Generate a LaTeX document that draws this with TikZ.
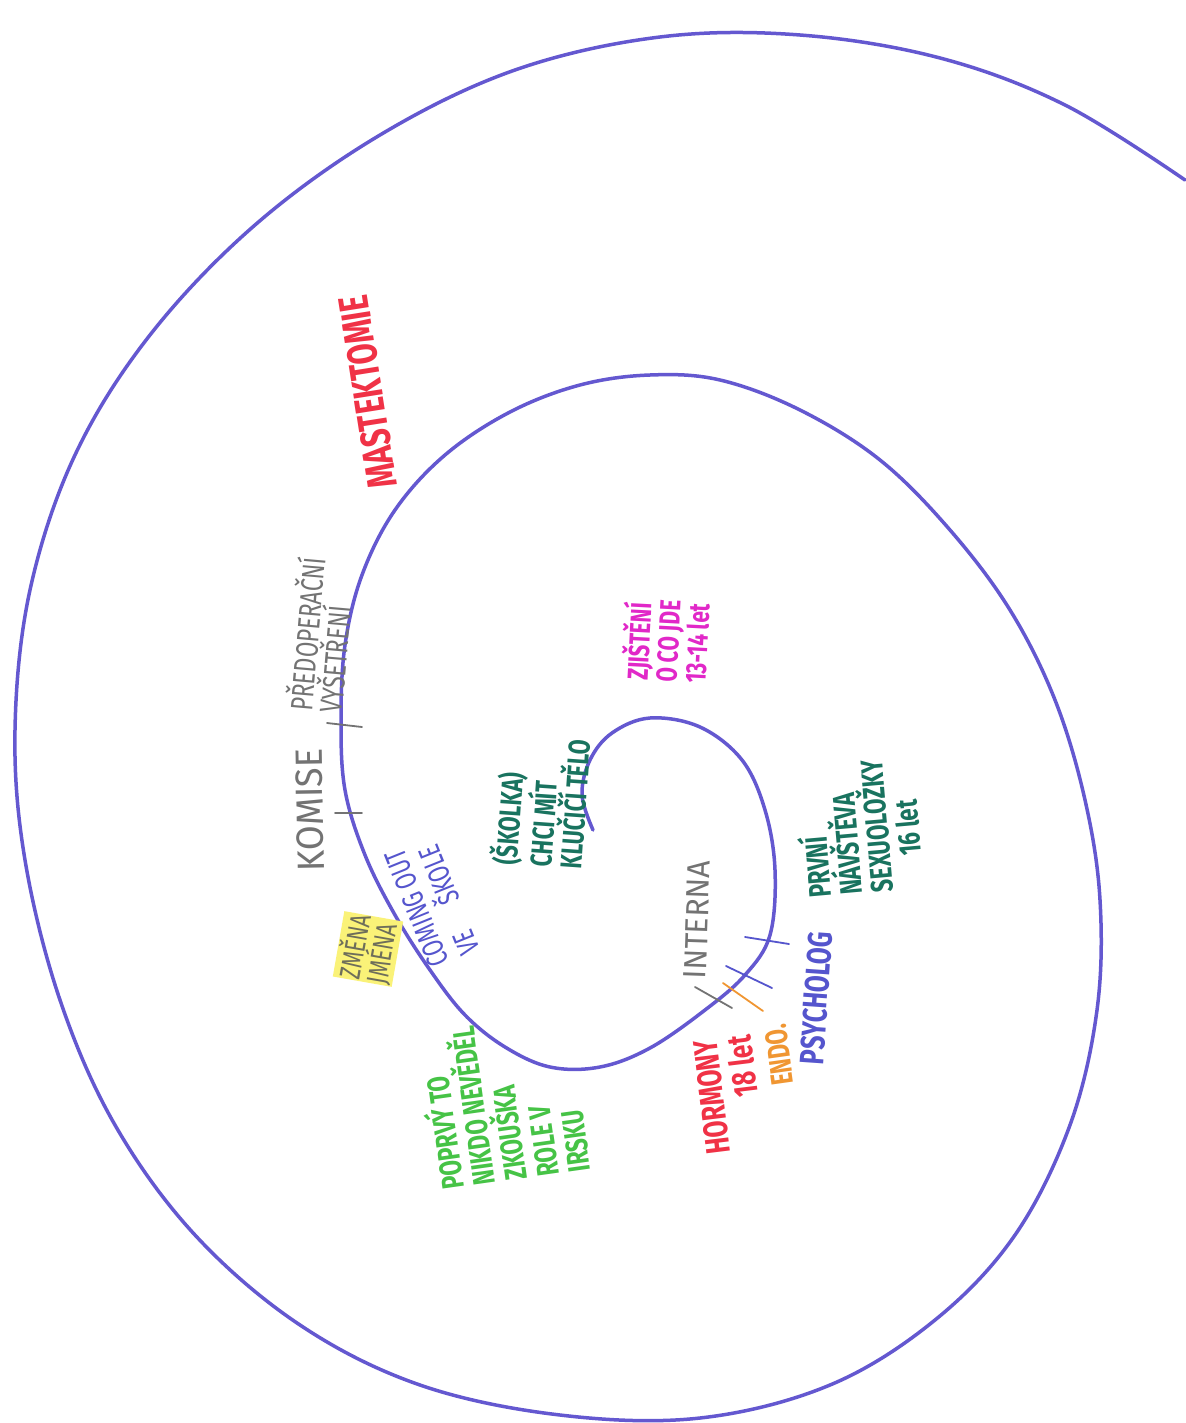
\documentclass[tikz,border=0pt]{standalone}
\usepackage{fontspec}
\newfontfamily\handfont[FakeStretch=0.72]{Fira Sans}
\newfontfamily\handwide[FakeStretch=0.95]{Fira Sans}
\definecolor{spiralblue}{RGB}{100,88,208}
\definecolor{markred}{RGB}{240,50,70}
\definecolor{markgray}{RGB}{115,115,115}
\definecolor{markblue}{RGB}{85,85,205}
\definecolor{markyellow}{RGB}{250,242,120}
\definecolor{markteal}{RGB}{25,115,95}
\definecolor{markmagenta}{RGB}{225,40,200}
\definecolor{markgreen}{RGB}{70,195,70}
\definecolor{markorange}{RGB}{240,150,50}
\definecolor{markolive}{RGB}{110,110,90}
\begin{document}
\begin{tikzpicture}[x=1pt,y=-1pt,
    note/.style={inner sep=1pt,align=left},
    spiral line/.style={draw=spiralblue,line width=3.5pt,line cap=round,line join=round},
    tick/.style={line width=1.8pt,line cap=round}]
    \useasboundingbox (0,0) rectangle (1185,1423);
    \fill[white] (0,0) rectangle (1185,1423);

    % the spiral, from the centre outwards
    \draw[spiral line] plot[smooth,tension=0.6] coordinates {
        (593,830) (582,795) (590,760) (612,733) (650,718) (700,727) (742,760)
        (765,810) (775,870) (770,935) (745,975) (705,1010) (650,1048) (600,1067)
        (550,1067) (505,1047) (465,1015) (430,970) (395,915) (365,855) (345,790)
        (341,720) (345,645) (362,575) (395,510) (445,455) (510,412) (580,385)
        (650,375) (720,380) (800,410) (880,460) (950,530) (1010,610) (1055,700)
        (1085,800) (1100,900) (1097,1010) (1070,1125) (1015,1235) (935,1320)
        (830,1385) (700,1418) (560,1415) (420,1385) (300,1325) (195,1235)
        (115,1125) (60,1000) (25,860) (15,730) (30,590) (75,455) (150,335)
        (255,225) (380,135) (515,70) (660,37) (800,35) (940,58) (1065,105)
        (1185,180)};

    % ticks on the spiral
    \draw[tick,markgray] (327,723) -- (362,727);
    \draw[tick,markgray] (335,813) -- (362,813);
    \draw[tick,markgray] (695,987) -- (732,1008);
    \draw[tick,markorange] (723,983) -- (763,1011);
    \draw[tick,markblue] (726,966) -- (772,988);
    \draw[tick,markblue] (745,937) -- (789,944);

    % labels
    \node[note,rotate=99,text=markred,font={\handfont\bfseries\fontsize{42}{44}\selectfont}] at (368,392) (mast) {MASTEKTOMIE};
    \node[note,rotate=91,text=markgray,font={\handwide\fontsize{38}{40}\selectfont}] at (310,810) (komise) {KOMISE};
    \node[note,rotate=85,text=markgray,font={\handfont\fontsize{31}{28}\selectfont}] at (320,635) (predop) {PŘEDOPERAČNÍ\\VYŠETŘENÍ};
    \node[note,rotate=112,text=markblue,font={\handfont\fontsize{30}{33}\selectfont}] at (432,902) (coming) {COMING OUT\\VE\quad ŠKOLE};
    \node[note,rotate=80,fill=markyellow,text=markolive,font={\handfont\fontsize{29}{22}\selectfont}] at (368,949) (jmeno) {ZMĚNA\\JMÉNA};
    \node[note,rotate=86,text=markteal,font={\handfont\bfseries\fontsize{30}{27}\selectfont}] at (540,802) (skolka) {(ŠKOLKA)\\CHCI MÍT\\KLUČIČÍ TĚLO};
    \node[note,rotate=87,text=markmagenta,font={\handfont\bfseries\fontsize{29}{29}\selectfont}] at (665,641) (zjisteni) {ZJIŠTĚNÍ\\O CO JDE\\13-14 let};
    \node[note,rotate=95,text=markteal,font={\handfont\bfseries\fontsize{31}{31}\selectfont}] at (858,828) (prvni) {PRVNÍ\\NÁVŠTĚVA\\SEXUOLOŽKY\\\hspace*{34pt}16 let};
    \node[note,rotate=88,text=markgray,font={\handwide\fontsize{32}{34}\selectfont}] at (697,920) (interna) {INTERNA};
    \node[note,rotate=86,text=markblue,font={\handfont\bfseries\fontsize{34}{36}\selectfont}] at (816,998) (psych) {PSYCHOLOG};
    \node[note,rotate=98,text=markorange,font={\handfont\bfseries\fontsize{31}{34}\selectfont}] at (779,1055) (endo) {ENDO.};
    \node[note,rotate=97,align=right,text=markred,font={\handfont\bfseries\fontsize{34}{34}\selectfont}] at (729,1095) (hormony) {HORMONY\\18 let};
    \node[note,rotate=98,text=markgreen,font={\handfont\bfseries\fontsize{31}{32}\selectfont}] at (502,1102) (poprve) {POPRVÝ TO\\NIKDO NEVĚDĚL\\ZKOUŠKA\\ROLE V\\IRSKU};

\end{tikzpicture}
\end{document}
